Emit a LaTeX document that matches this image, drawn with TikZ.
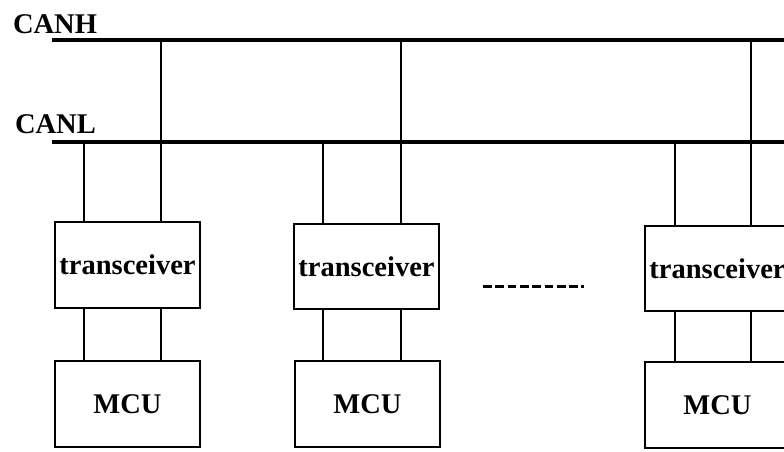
\documentclass[tikz,border=0pt]{standalone}
\usepackage{fontspec}
\setmainfont{Liberation Serif}
\usetikzlibrary{positioning}

\begin{document}
\begin{tikzpicture}[x=0.75pt, y=-0.75pt, line width=1.5pt,
font=\bfseries\fontsize{21.4}{24}\selectfont,
unit/.style={rectangle, draw, inner sep=0pt, minimum width=108.75pt, minimum height=64pt},
bus/.style={line width=2.4pt},
label/.style={inner sep=0pt, anchor=base west}]

\useasboundingbox (0,0) rectangle (784,451);
\clip (0,0) rectangle (784,451);

% bus lines
\node [label] (canh) at (12,33) {CANH};
\node [label] (canl) at (14,133) {CANL};
\coordinate (hstart) at (52,40);
\coordinate (hend) at (795,40);
\coordinate (lstart) at (52,142);
\coordinate (lend) at (795,142);
\draw [bus] (hstart) -- (hend);
\draw [bus] (lstart) -- (lend);

% nodes
\node [unit] (trx1) at (127.5,265) {transceiver};
\node [unit] (mcu1) at (127.5,404) {MCU};
\node [unit] (trx2) at (366.5,266.5) {transceiver};
\node [unit] (mcu2) at (367.5,404) {MCU};
\node [unit] (trx3) at (717.5,268.5) {transceiver};
\node [unit] (mcu3) at (717.5,405) {MCU};

% taps on the bus
\coordinate (l1) at (84,142);   \coordinate (h1) at (161,40);
\coordinate (l2) at (323,142);  \coordinate (h2) at (400.5,40);
\coordinate (l3) at (675,142);  \coordinate (h3) at (751,40);

\draw (l1) -- (l1 |- trx1.north);
\draw (h1) -- (h1 |- trx1.north);
\draw (l1 |- trx1.south) -- (l1 |- mcu1.north);
\draw (h1 |- trx1.south) -- (h1 |- mcu1.north);

\draw (l2) -- (l2 |- trx2.north);
\draw (h2) -- (h2 |- trx2.north);
\draw (l2 |- trx2.south) -- (l2 |- mcu2.north);
\draw (h2 |- trx2.south) -- (h2 |- mcu2.north);

\draw (l3) -- (l3 |- trx3.north);
\draw (h3) -- (h3 |- trx3.north);
\draw (l3 |- trx3.south) -- (l3 |- mcu3.north);
\draw (h3 |- trx3.south) -- (h3 |- mcu3.north);

% more nodes
\coordinate (dots) at (483,286.5);
\coordinate (dotsend) at (584.3,286.5);
\draw [line width=2.4pt, dash pattern=on 6.6pt off 2.63pt] (dots) -- (dotsend);

\end{tikzpicture}
\end{document}
